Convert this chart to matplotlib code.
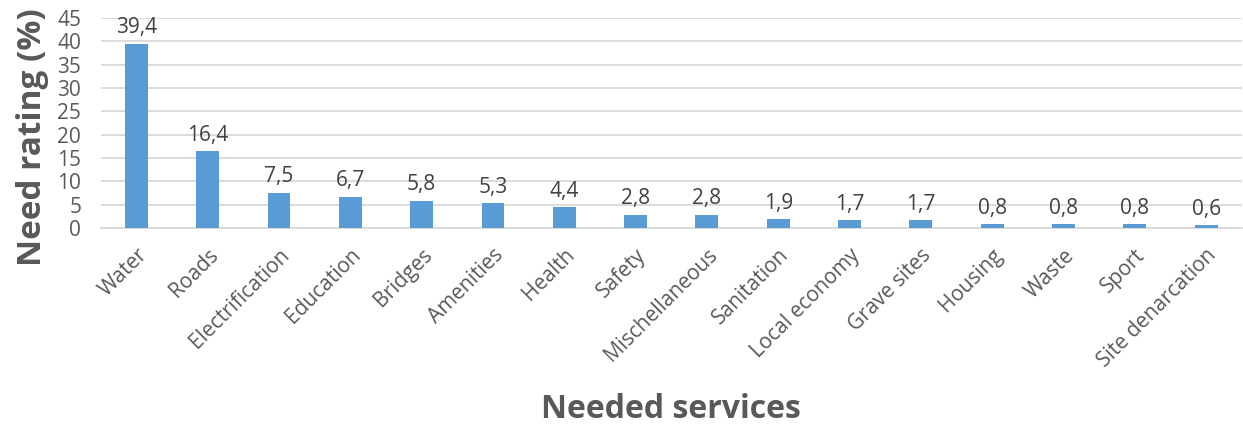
import matplotlib
matplotlib.use("Agg")
from matplotlib import pyplot as plt
import numpy as np

plt.rcParams['font.family'] = ['Open Sans', 'DejaVu Sans']

services = ['Water', 'Roads', 'Electrification', 'Education', 'Bridges',
            'Amenities', 'Health', 'Safety', 'Mischellaneous', 'Sanitation',
            'Local economy', 'Grave sites', 'Housing', 'Waste', 'Sport',
            'Site denarcation']
ratings = [39.4, 16.4, 7.5, 6.7, 5.8, 5.3, 4.4, 2.8, 2.8, 1.9, 1.7, 1.7,
           0.8, 0.8, 0.8, 0.6]
y_ticks = [0, 5, 10, 15, 20, 25, 30, 35, 40, 45]

bar_color = '#5B9BD5'
text_color = '#595959'
grid_color = '#D9D9D9'

fig = plt.figure(figsize=(12.43, 4.29), dpi=100)
ax = fig.add_axes([0.081, 0.4685, 0.918, 0.490])

x = np.arange(len(services))
bars = ax.bar(x, ratings, width=0.32, color=bar_color, zorder=3)

for xi, val in zip(x, ratings):
    ax.annotate('{:.1f}'.format(val).replace('.', ','), (xi, val),
                xytext=(0, 4), textcoords='offset points',
                ha='center', va='bottom', fontsize=15, color='#404040')

ax.set_xlim(-0.5, len(services) - 0.5)
ax.set_ylim(0, 45)
ax.set_yticks(y_ticks)
ax.yaxis.grid(True, color=grid_color, linewidth=1.3, zorder=0)
ax.set_axisbelow(True)

for side in ['top', 'right', 'left']:
    ax.spines[side].set_visible(False)
ax.spines['bottom'].set_color(grid_color)
ax.spines['bottom'].set_linewidth(1.3)

ax.set_xticks(x)
ax.set_xticklabels(services, rotation=45, ha='right', rotation_mode='anchor',
                   fontsize=15, color=text_color)
ax.tick_params(axis='x', length=0, pad=12)
ax.tick_params(axis='y', length=0, pad=14, labelsize=15, labelcolor=text_color)

ax.set_ylabel('Need rating (%)', fontsize=24, fontweight='bold',
              color=text_color)
ax.yaxis.set_label_coords(-0.045, 0.43)
fig.text(0.54, 0.045, 'Needed services', fontsize=23, fontweight='bold',
         color=text_color, ha='center', va='center')

fig.savefig('out.png', dpi=100)
